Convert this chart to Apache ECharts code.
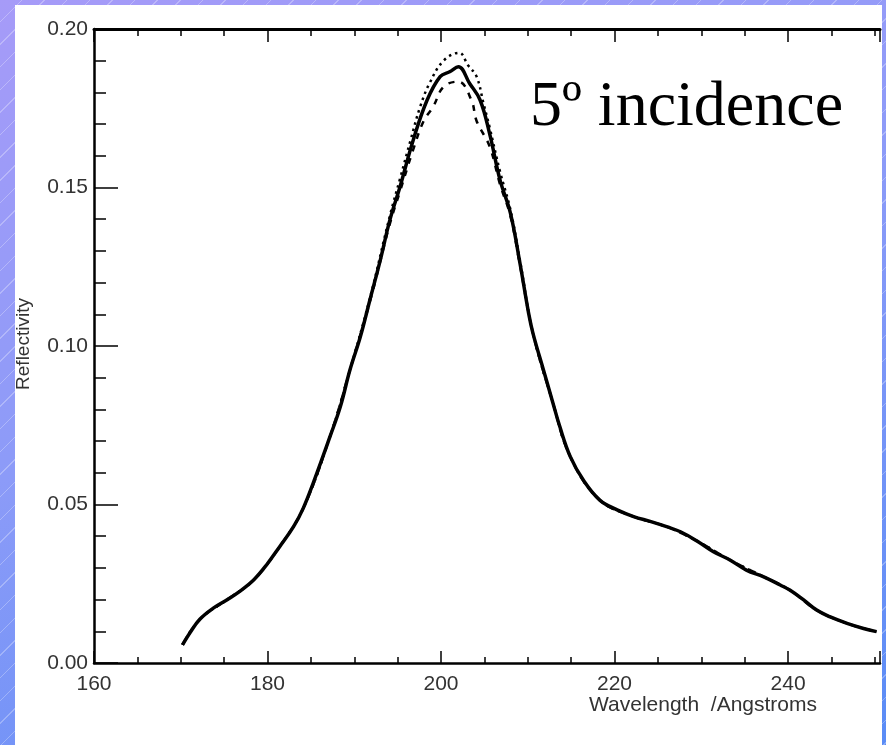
<!DOCTYPE html>
<html>
<head>
<meta charset="utf-8">
<script src="https://cdn.jsdelivr.net/npm/echarts@6/dist/echarts.min.js"></script>
<style>
  html, body { margin: 0; padding: 0; }
  body {
    width: 886px; height: 745px; overflow: hidden; position: relative;
    background:
      repeating-linear-gradient(135deg, rgba(255,255,255,0) 0px, rgba(255,255,255,0) 15px, rgba(255,255,255,0.28) 15px, rgba(255,255,255,0.28) 16px),
      linear-gradient(160deg, #a69bf8 0%, #8c9bf8 45%, #5a8cf6 100%);
  }
  #panel { position: absolute; left: 15px; top: 5px; width: 867px; height: 740px; background: #ffffff; }
  #chart { position: absolute; left: 0; top: 0; width: 886px; height: 745px; }
</style>
</head>
<body>
<div id="panel"></div>
<div id="chart"></div>
<script>
// ---- Data ----
const xTickLabels = [160, 180, 200, 220, 240];
const yTickLabels = [0.00, 0.05, 0.10, 0.15, 0.20];

// Solid curve
const solidWavelength = [170.2, 171.1, 172.2, 173.75, 175.3, 176.8, 178.4, 179.9, 181.4, 183.0, 184.1, 185.3, 187.2, 188.4, 189.5, 190.7, 191.8, 193.0, 194.1, 195.3, 196.8, 198.4, 199.9, 201.0, 202.0, 203.3, 204.5, 205.6, 206.8, 208.0, 209.1, 210.1, 210.6, 211.8, 212.8, 213.7, 214.9, 216.4, 218.3, 220.3, 222.2, 224.2, 226.0, 227.6, 229.5, 231.4, 233.3, 235.2, 237.2, 239.1, 240.2, 241.8, 243.3, 244.8, 246.8, 248.7, 250.2];
const solidReflectivity = [0.0057, 0.0097, 0.0138, 0.0173, 0.0199, 0.0226, 0.0262, 0.0310, 0.0367, 0.0430, 0.0487, 0.0570, 0.0714, 0.0809, 0.0924, 0.1029, 0.1145, 0.1271, 0.1397, 0.1505, 0.1650, 0.1776, 0.1850, 0.1865, 0.1881, 0.1828, 0.1776, 0.1670, 0.1524, 0.1419, 0.1261, 0.1103, 0.1040, 0.0925, 0.0830, 0.0745, 0.0651, 0.0577, 0.0514, 0.0483, 0.0462, 0.0446, 0.0430, 0.0414, 0.0385, 0.0351, 0.0325, 0.0293, 0.0272, 0.0246, 0.0230, 0.0199, 0.0167, 0.0146, 0.0125, 0.0109, 0.0099];

// Dotted curve (highest peak)
const dottedWavelength = [170.2, 172.2, 175.3, 178.4, 181.4, 184.1, 187.2, 189.5, 191.8, 194.1, 195.3, 196.5, 197.6, 198.7, 200.3, 202.1, 203.1, 204.1, 204.9, 205.6, 206.8, 208.0, 209.1, 210.6, 212.8, 214.9, 218.3, 222.2, 226.0, 229.5, 233.3, 237.2, 240.2, 243.3, 246.8, 250.2];
const dottedReflectivity = [0.0057, 0.0138, 0.0199, 0.0262, 0.0367, 0.0487, 0.0714, 0.0924, 0.1150, 0.1410, 0.1530, 0.1650, 0.1755, 0.1830, 0.1900, 0.1925, 0.1886, 0.1850, 0.1765, 0.1690, 0.1550, 0.1430, 0.1270, 0.1040, 0.0830, 0.0651, 0.0514, 0.0462, 0.0430, 0.0385, 0.0325, 0.0272, 0.0230, 0.0167, 0.0125, 0.0099];

// Dashed curve (lowest peak)
const dashedWavelength = [170.2, 172.2, 175.3, 178.4, 181.4, 184.1, 187.2, 189.5, 191.8, 194.1, 195.3, 196.8, 198.0, 199.1, 200.3, 202.0, 203.5, 204.1, 205.6, 206.8, 208.0, 209.1, 210.6, 212.8, 214.9, 218.3, 222.2, 226.0, 229.5, 233.3, 237.2, 240.2, 243.3, 246.8, 250.2];
const dashedReflectivity = [0.0057, 0.0138, 0.0199, 0.0262, 0.0367, 0.0487, 0.0714, 0.0924, 0.1140, 0.1385, 0.1490, 0.1620, 0.1710, 0.1755, 0.1818, 0.1834, 0.1776, 0.1710, 0.1630, 0.1510, 0.1410, 0.1255, 0.1040, 0.0830, 0.0651, 0.0514, 0.0462, 0.0430, 0.0385, 0.0325, 0.0272, 0.0230, 0.0167, 0.0125, 0.0099];

const xAxisTitle = 'Wavelength  /Angstroms';
const yAxisTitle = 'Reflectivity';
const annotation = '5º incidence';

// ---- Chart ----
const zip = (xs, ys) => xs.map((x, i) => [x, ys[i]]);
const chart = echarts.init(document.getElementById('chart'), null, { renderer: 'canvas' });
const FONT = '"Liberation Sans", Arial, sans-serif';

const option = {
  animation: false,
  backgroundColor: 'transparent',
  grid: { left: 94, top: 29, right: 6, bottom: 82, containLabel: false },
  xAxis: [
    {
      type: 'value', position: 'bottom', min: 160, max: 250.6, interval: 20,
      axisLine: { show: true, onZero: false, lineStyle: { color: '#000', width: 2.5 } },
      axisTick: { show: true, inside: true, length: 12, lineStyle: { color: '#000', width: 1.5 } },
      minorTick: { show: true, splitNumber: 4, length: 6, lineStyle: { color: '#000', width: 1.5 } },
      splitLine: { show: false },
      axisLabel: {
        margin: 11, fontSize: 21, fontFamily: FONT, color: '#333',
        showMaxLabel: false,
        formatter: v => (xTickLabels.indexOf(v) >= 0 ? String(v) : '')
      }
    },
    {
      type: 'value', position: 'top', min: 160, max: 250.6, interval: 20,
      axisLine: { show: true, onZero: false, lineStyle: { color: '#000', width: 3 } },
      axisTick: { show: true, inside: true, length: 13, lineStyle: { color: '#000', width: 1.5 } },
      minorTick: { show: true, splitNumber: 4, length: 7, lineStyle: { color: '#000', width: 1.5 } },
      splitLine: { show: false },
      axisLabel: { show: false }
    }
  ],
  yAxis: {
    type: 'value', min: 0, max: 0.2, interval: 0.05,
    axisLine: { show: true, onZero: false, lineStyle: { color: '#000', width: 2.5 } },
    axisTick: { show: true, inside: true, length: 24, lineStyle: { color: '#000', width: 1.5 } },
    minorTick: { show: true, splitNumber: 5, length: 12, lineStyle: { color: '#000', width: 1.5 } },
    splitLine: { show: false },
    axisLabel: {
      margin: 6, fontSize: 21, fontFamily: FONT, color: '#333',
      formatter: v => v.toFixed(2)
    }
  },
  series: [
    {
      name: 'solid', type: 'line', xAxisIndex: 0, data: zip(solidWavelength, solidReflectivity),
      showSymbol: false, smooth: 0.4, lineStyle: { color: '#000', width: 3.5 }, z: 3
    },
    {
      name: 'dotted', type: 'line', xAxisIndex: 0, data: zip(dottedWavelength, dottedReflectivity),
      showSymbol: false, smooth: 0.4, lineStyle: { color: '#000', width: 2.5, type: [2.5, 4] }, z: 2
    },
    {
      name: 'dashed', type: 'line', xAxisIndex: 0, data: zip(dashedWavelength, dashedReflectivity),
      showSymbol: false, smooth: 0.4, lineStyle: { color: '#000', width: 2.5, type: [6, 7] }, z: 2
    }
  ],
  graphic: [
    {
      type: 'text', left: 530, top: 76,
      style: { text: annotation, fontSize: 64, fontFamily: '"Liberation Serif", "Times New Roman", serif', fill: '#000' }
    },
    {
      type: 'text', x: 703, y: 705,
      style: { text: xAxisTitle, fontSize: 21, fontFamily: FONT, fill: '#333', align: 'center', verticalAlign: 'middle' }
    },
    {
      type: 'text', x: 24, y: 344, rotation: Math.PI / 2,
      style: { text: yAxisTitle, fontSize: 19, fontFamily: FONT, fill: '#333', align: 'center', verticalAlign: 'middle' }
    }
  ]
};
chart.setOption(option);
</script>
</body>
</html>
